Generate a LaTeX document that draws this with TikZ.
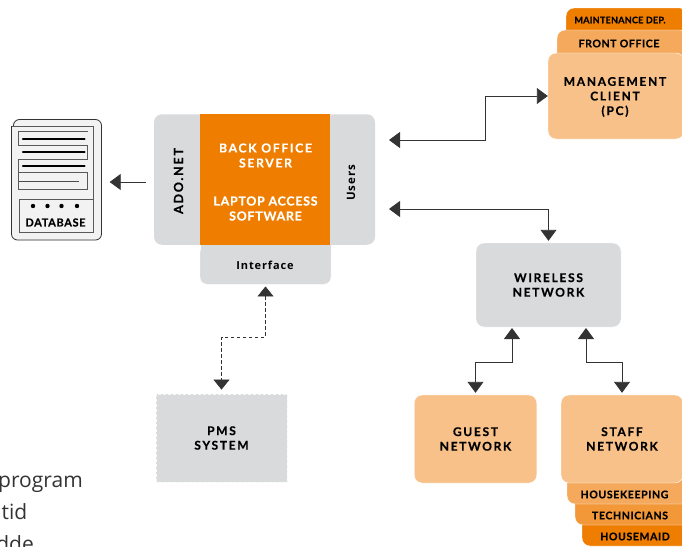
\documentclass[tikz,border=0pt]{standalone}
\usepackage{fontspec}
\usetikzlibrary{arrows.meta}
\newfontfamily\labwide{Lato}[LetterSpace=14,BoldFeatures={FakeBold=0.5}]
\newfontfamily\labsemi{Lato}[LetterSpace=13,BoldFeatures={FakeBold=0.5}]
\newfontfamily\labmid{Lato}[LetterSpace=6,BoldFeatures={FakeBold=0.5}]
\newfontfamily\labtiny{Lato}[LetterSpace=3,BoldFeatures={FakeBold=0.5}]
\newfontfamily\frut{Open Sans}[LetterSpace=8]
\newfontfamily\bodyf{Open Sans}
\definecolor{lightor}{HTML}{F8C189}
\definecolor{midor}{HTML}{F4A95C}
\definecolor{techor}{HTML}{F39839}
\definecolor{fullor}{HTML}{EF7D00}
\definecolor{greybox}{HTML}{D9DADC}
\definecolor{dbfill}{HTML}{F2F2F2}
\tikzset{
 x=1pt,y=-1pt,
 block/.style={rectangle,rounded corners=8pt,inner sep=0pt,align=center,text=black,draw=white,line width=0.4pt},
 lab/.style={font=\fontsize{12}{14.6}\selectfont\labwide\bfseries},
 tag/.style={font=\fontsize{10.5}{12}\selectfont\labmid\bfseries},
 conn/.style={draw=black!80,line width=0.9pt},
 dashconn/.style={conn,dash pattern=on 3.5pt off 2.5pt,line width=0.7pt},
 tipe/.style={-{Triangle[length=11pt,width=16pt]}},
 tipb/.style={{Triangle[length=11pt,width=16pt]}-{Triangle[length=11pt,width=16pt]}},
 dbline/.style={draw=black!65,line width=0.9pt},
 dbbar/.style={line width=2.3pt,line cap=round,black},
 body/.style={anchor=base east,inner sep=0pt,font=\fontsize{21}{21}\selectfont\bodyf,text=black!80},
}
\begin{document}
\begin{tikzpicture}
\useasboundingbox (0,0) rectangle (682,546);
\clip (0,0) rectangle (682,546);
% body text cut off at the left edge
\node[body] (t1) at (83,487) {program};
\node[body] (t2) at (27.5,519) {tid};
\node[body] (t3) at (34,551) {dde};
% database
\node[rectangle,fill=dbfill,rounded corners=6pt,minimum width=90pt,minimum height=121pt,inner sep=0pt] (db) at (56.5,180) {};
\draw[black!80,line width=0.8pt,rounded corners=6pt] (13.5,126) -- (13.5,119.5) -- (101.5,119.5) -- (101.5,240) -- (11.5,240) -- (11.5,126);
\draw[dbline] (11.5,126.5) -- (93.5,126.5) -- (93.5,232) -- (19.5,232) -- (19.5,199) -- (93.5,199);
\draw[dbline] (87.5,131.5) -- (18.5,131.5) -- (18.5,145.5) -- (87.5,145.5) -- (87.5,159) -- (18.5,159) -- (18.5,172) -- (87.5,172) -- (87.5,189.5) -- (18.5,189.5) -- (18.5,172);
\draw[dbbar] (23,139) -- (84.5,139);
\draw[dbbar] (23,152) -- (84.5,152);
\draw[dbbar] (23,166) -- (84.5,166);
\draw[black!70,line width=0.7pt] (19,181) -- (79,181);
\foreach \dx in {33,47.5,61.5,77}{\fill[black] (\dx,206) circle (2.2pt);}
\node[inner sep=0pt,font=\fontsize{11}{13}\selectfont\labmid\bfseries] (dbl) at (55.5,222.5) {DATABASE};
% server
\node[block,fill=greybox,minimum width=131pt,minimum height=39.5pt,rounded corners=7pt] (iface) at (265.5,264.5) {};
\fill[greybox] (201,245) rectangle (330.5,255);
\node[inner sep=0pt,font=\fontsize{11}{13}\selectfont\frut\bfseries] (ifl) at (265,265) {Interface};
\node[block,draw=none,fill=greybox,minimum width=221pt,minimum height=130.5pt] (main) at (264.5,179.5) {};
\node[rectangle,fill=fullor,inner sep=0pt,minimum width=130pt,minimum height=130.5pt] (core) at (265,179.5) {};
\node[inner sep=0pt,align=center,text=white,font=\fontsize{12.3}{15}\selectfont\labsemi\bfseries] (bos) at (265.5,155.5) {BACK OFFICE\\SERVER};
\node[inner sep=0pt,align=center,text=white,font=\fontsize{12.4}{15}\selectfont\labmid\bfseries] (las) at (265.5,208.5) {LAPTOP ACCESS\\SOFTWARE};
\node[inner sep=0pt,rotate=90,font=\fontsize{12.5}{14}\selectfont\labwide\bfseries] (ado) at (178.5,181) {ADO.NET};
\node[inner sep=0pt,rotate=90,font=\fontsize{11.5}{13}\selectfont\frut\bfseries] (usr) at (351,183) {Users};
% management stack
\node[block,fill=fullor,minimum width=122pt,minimum height=30pt] (maint) at (627,23) {};
\node[block,fill=midor,minimum width=131pt,minimum height=35pt] (front) at (622.5,47.5) {};
\node[block,fill=lightor,minimum width=136pt,minimum height=86pt] (mgmt) at (616,96) {};
\node[inner sep=0pt,font=\fontsize{9}{11}\selectfont\labtiny\bfseries] (mainl) at (620,20) {MAINTENANCE DEP.};
\node[inner sep=0pt,tag] (frontl) at (619,43.5) {FRONT OFFICE};
\node[inner sep=0pt,lab,align=center] (mgmtl) at (615,97) {MANAGEMENT\\CLIENT\\(PC)};
% wireless
\node[block,fill=greybox,minimum width=145pt,minimum height=84pt,lab] (wifi) at (548.5,285) {WIRELESS\\NETWORK};
% guest
\node[block,fill=lightor,minimum width=122.5pt,minimum height=88pt,lab] (guest) at (475.5,439) {GUEST\\NETWORK};
% staff stack
\node[block,fill=fullor,minimum width=110pt,minimum height=30pt] (hmaid) at (637,531) {};
\node[block,fill=techor,minimum width=117pt,minimum height=35pt] (tech) at (633.5,507.5) {};
\node[block,fill=midor,minimum width=125pt,minimum height=37pt] (hkeep) at (629.5,485.5) {};
\node[block,fill=lightor,minimum width=122pt,minimum height=88pt,lab] (staff) at (622,439) {STAFF\\NETWORK};
\node[inner sep=0pt,tag] (hkl) at (624.5,494.5) {HOUSEKEEPING};
\node[inner sep=0pt,tag] (tl) at (630,515.5) {TECHNICIANS};
\node[inner sep=0pt,tag] (hl) at (635,536.5) {HOUSEMAID};
% PMS
\node[rectangle,fill=greybox,draw=white!80!greybox,dash pattern=on 3pt off 2pt,line width=0.8pt,inner sep=0pt,minimum width=131pt,minimum height=88pt,align=center,font=\fontsize{12}{14.5}\selectfont\labwide\bfseries] (pms) at (221.5,438) {PMS\\SYSTEM};
% connector ends beside the grey server block and the wireless block
\coordinate (ua) at (389,140);
\coordinate (ub) at (389,209);
\coordinate (wa) at (512,328);
\coordinate (wb) at (586,328);
\coordinate (ja) at (485,96);
\coordinate (jb) at (475.5,362);
\coordinate (jc) at (622,362);
\coordinate (pa) at (265.5,337);
\coordinate (pb) at (221.5,337);
% connectors
\draw[conn,tipe] ([xshift=-8pt,yshift=-2.5pt]main.west) -- ([xshift=8pt,yshift=-2pt]db.east);
\draw[conn,tipb] (ua) -| (ja) -- (mgmt.west);
\draw[conn,tipb] (ub) -| ([yshift=2pt]wifi.north);
\draw[conn,tipb] (wa) |- (jb) -- ([yshift=2pt]guest.north);
\draw[conn,tipb] (wb) |- (jc) -- ([yshift=2pt]staff.north);
\draw[dashconn,{Triangle[length=10pt,width=16pt]}-{Triangle[length=10pt,width=16pt]}] ([yshift=-2pt]iface.south) -- (pa) -- (pb) -- ([yshift=4pt]pms.north);
\end{tikzpicture}
\end{document}
